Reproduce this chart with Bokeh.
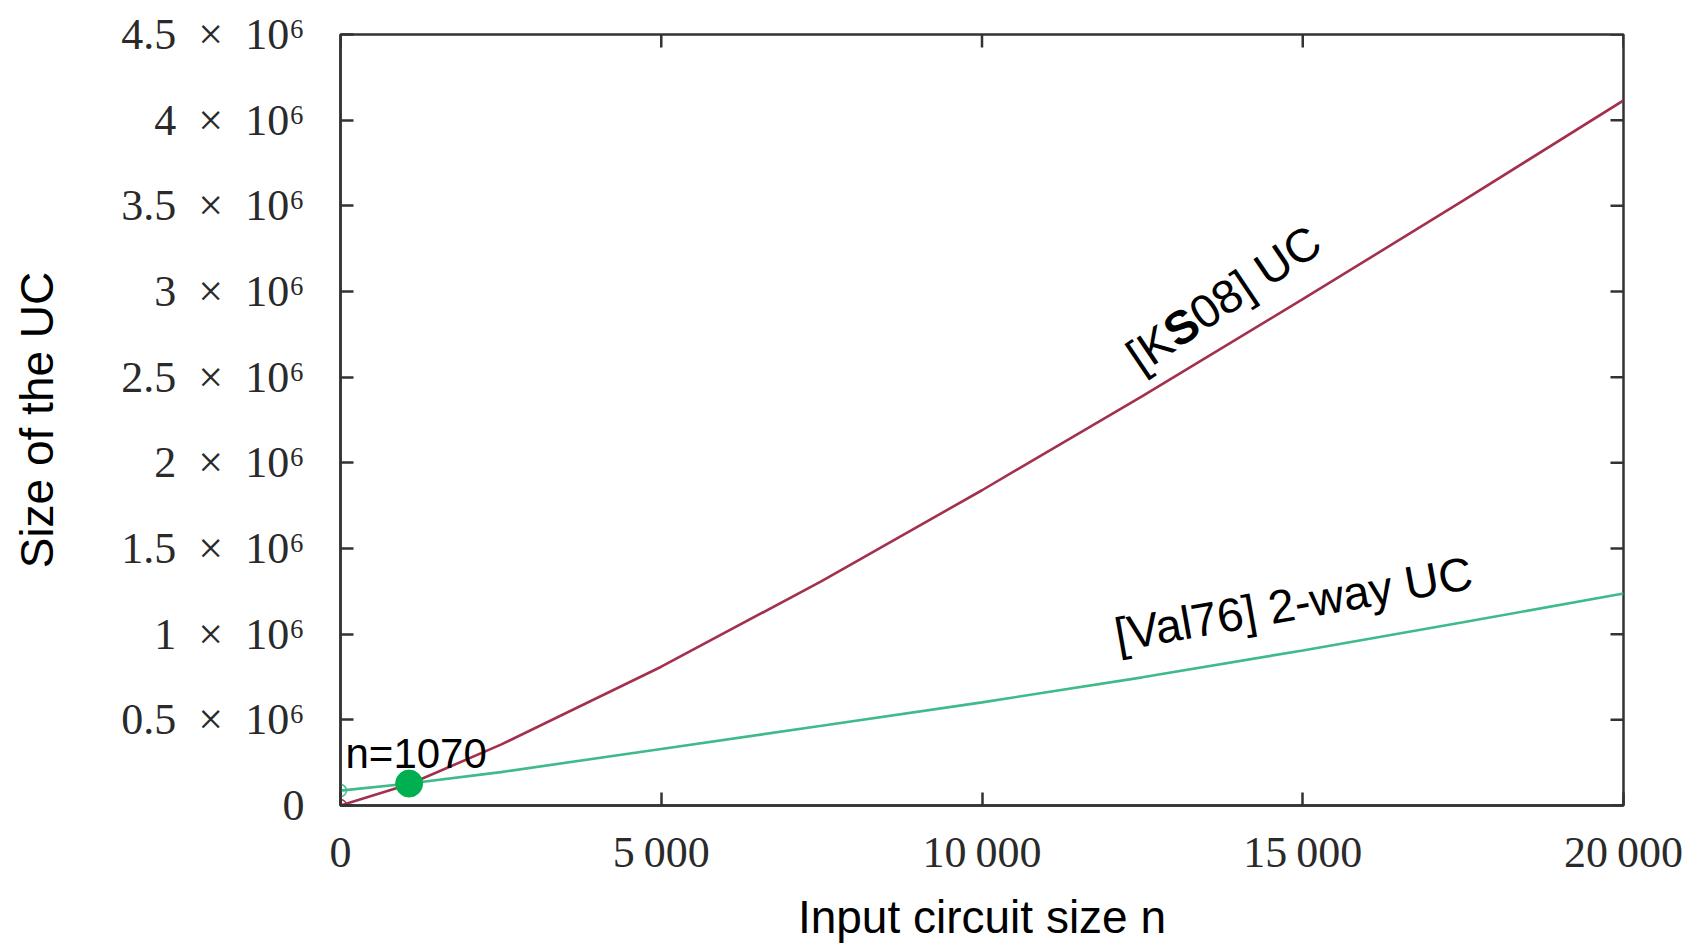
import math
from bokeh.plotting import figure
from bokeh.models import Range1d, FixedTicker, Label, ColumnDataSource
from bokeh.embed import file_html
from bokeh.resources import INLINE

# ---------------- data ----------------
n_values = [0, 1070, 2500, 5000, 7500, 10000, 12500, 15000, 17500, 20000]
ks08_size = [0, 124000, 355000, 810000, 1310000, 1840000, 2390000, 2955000, 3530000, 4115000]
val76_size = [87000, 128000, 195000, 330000, 465000, 602000, 748000, 905000, 1070000, 1237000]

crossover_n = [1070]
crossover_size = [128000]
crossover_label = "n=1070"

x_ticks = [0, 5000, 10000, 15000, 20000]
x_tick_labels = ["0", "5\u2009000", "10\u2009000", "15\u2009000", "20\u2009000"]
y_ticks = [0, 500000, 1000000, 1500000, 2000000, 2500000, 3000000, 3500000, 4000000, 4500000]
y_tick_labels = ["0", "0.5\u2002×\u200210⁶", "1\u2002×\u200210⁶", "1.5\u2002×\u200210⁶", "2\u2002×\u200210⁶",
                 "2.5\u2002×\u200210⁶", "3\u2002×\u200210⁶", "3.5\u2002×\u200210⁶", "4\u2002×\u200210⁶",
                 "4.5\u2002×\u200210⁶"]

x_label = "Input circuit size n"
y_label = "Size of the UC"

# ---------------- figure ----------------
W, H = 1698, 948
FL, FR, FT, FB = 340, 1623, 34, 805  # frame edges in pixels
XMAX, YMAX = 20000, 4.5e6

p = figure(width=W, height=H, x_range=Range1d(0, XMAX), y_range=Range1d(0, YMAX),
           output_backend="svg", toolbar_location=None,
           min_border_left=FL, min_border_right=W - FR, min_border_top=FT, min_border_bottom=H - FB)
p.grid.visible = False
p.background_fill_color = "white"
p.border_fill_color = "white"
p.outline_line_color = "#333333"
p.outline_line_width = 2.5

AX_COLOR = "#333333"
TICK_FONT = "Liberation Serif"
LABEL_FONT = "Liberation Sans"
TICK_LEN = 13

def style_axis(ax, ticks, labels):
    ax.ticker = FixedTicker(ticks=ticks)
    ax.minor_tick_line_color = None
    ax.major_tick_in = TICK_LEN
    ax.major_tick_out = 0
    ax.major_tick_line_color = AX_COLOR
    ax.major_tick_line_width = 2.5
    ax.axis_line_color = AX_COLOR
    ax.axis_line_width = 2.5
    ax.major_label_overrides = {t: l for t, l in zip(ticks, labels)}
    ax.major_label_text_font = TICK_FONT
    ax.major_label_text_font_size = "44px"
    ax.major_label_text_color = "#2a2a2a"
    ax.axis_label_text_font = LABEL_FONT
    ax.axis_label_text_font_style = "normal"
    ax.axis_label_text_font_size = "46px"
    ax.axis_label_text_color = "black"

xa = p.xaxis[0]
style_axis(xa, x_ticks, x_tick_labels)
xa.major_label_standoff = 22
xa.axis_label = x_label
xa.axis_label_standoff = 11

ya = p.yaxis[0]
style_axis(ya, y_ticks, y_tick_labels)
ya.major_label_standoff = 36
ya.axis_label = y_label
ya.axis_label_standoff = 55

sx = XMAX / (FR - FL)   # data units per pixel
sy = YMAX / (FB - FT)

def px_to_data(px, py):
    return (px - FL) * sx, (FB - py) * sy

# mirrored ticks on the top and right borders
p.segment(x0=x_ticks, y0=[YMAX] * len(x_ticks), x1=x_ticks, y1=[YMAX - TICK_LEN * sy] * len(x_ticks),
          line_color=AX_COLOR, line_width=2.5)
p.segment(x0=[XMAX] * len(y_ticks), y0=y_ticks, x1=[XMAX - TICK_LEN * sx] * len(y_ticks), y1=y_ticks,
          line_color=AX_COLOR, line_width=2.5)

# ---------------- series ----------------
RED = "#a3304c"
GREEN = "#3fba8a"
src = ColumnDataSource(dict(n=n_values, ks=ks08_size, val=val76_size))
p.line("n", "ks", source=src, line_color=RED, line_width=2.6)
p.line("n", "val", source=src, line_color=GREEN, line_width=2.6)
p.scatter(x=[n_values[0]], y=[ks08_size[0]], size=12, marker="circle", fill_color=None,
          line_color=RED, line_width=1.5)
p.scatter(x=[n_values[0]], y=[val76_size[0]], size=12, marker="circle", fill_color=None,
          line_color=GREEN, line_width=1.5)
p.scatter(x=crossover_n, y=crossover_size, size=27, marker="circle", fill_color="#00b050",
          line_color="#00b050")

# ---------------- annotations ----------------
cx, cy = px_to_data(345, 753)
p.add_layout(Label(x=cx, y=cy, text=crossover_label, text_font=LABEL_FONT, text_font_size="42px",
                   text_color="black", text_align="left", text_baseline="alphabetic"))

theta = math.radians(34)
fs = 47
kx, ky = px_to_data(1131, 360)
pieces = [("[K", "normal", 0.0), ("S", "bold", 0.945 * fs), ("08] UC", "normal", (0.945 + 0.667) * fs)]
for txt, style, s in pieces:
    p.add_layout(Label(x=kx + s * math.cos(theta) * sx, y=ky + s * math.sin(theta) * sy,
                       text=txt, angle=theta, text_font=LABEL_FONT, text_font_size=f"{fs}px",
                       text_font_style=style, text_color="black",
                       text_align="left", text_baseline="alphabetic"))

vx, vy = px_to_data(1293, 603)
p.add_layout(Label(x=vx, y=vy, text="[Val76] 2-way UC", angle=math.radians(10),
                   text_font=LABEL_FONT, text_font_size="47px", text_color="black",
                   text_align="center", text_baseline="middle"))

open("out.html", "w").write(file_html(p, INLINE))
